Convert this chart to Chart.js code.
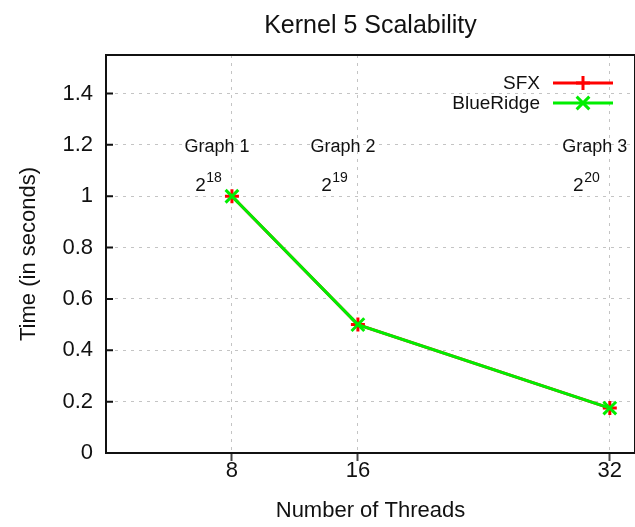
<!DOCTYPE html>
<html>
<head>
<meta charset="utf-8">
<script src="https://cdn.jsdelivr.net/npm/chart.js@4.4.1/dist/chart.umd.min.js"></script>
<style>
  html, body { margin: 0; padding: 0; background: #fff; overflow: hidden; }
  #wrap { width: 635px; height: 527px; }
</style>
</head>
<body>
<div id="wrap"><canvas id="chart" width="635" height="527"></canvas></div>
<script>
// thread counts on the x axis
const threads = [8, 16, 32];
// run times in seconds
const sfxTimes = [1.0, 0.5, 0.175];
const blueRidgeTimes = [1.0, 0.5, 0.175];
// y axis tick values
const yTicks = [0, 0.2, 0.4, 0.6, 0.8, 1, 1.2, 1.4];
// input graph per thread count, size is 2^exponent
const graphNames = ['Graph 1', 'Graph 2', 'Graph 3'];
const graphExponents = ['18', '19', '20'];

const FONT = '"Liberation Sans", Arial, Helvetica, sans-serif';
const INK = '#111';
const GRID = '#c4c4c4';

Chart.defaults.font.family = FONT;
Chart.defaults.color = INK;

const points = vals => threads.map((t, i) => ({ x: t, y: vals[i] }));

// + and x markers, same shapes as the point styles
function drawMarker(ctx, style, x, y, r) {
  ctx.beginPath();
  if (style === 'cross') {
    ctx.moveTo(x - r, y); ctx.lineTo(x + r, y);
    ctx.moveTo(x, y - r); ctx.lineTo(x, y + r);
  } else {
    const d = r * Math.SQRT1_2;
    ctx.moveTo(x - d, y - d); ctx.lineTo(x + d, y + d);
    ctx.moveTo(x - d, y + d); ctx.lineTo(x + d, y - d);
  }
  ctx.stroke();
}

// closes the box on top/right and adds inward ticks on the y axis
const framePlugin = {
  id: 'frame',
  beforeDatasetsDraw(chart) {
    const { ctx, chartArea: a, scales: { y } } = chart;
    ctx.save();
    ctx.strokeStyle = INK;
    ctx.lineWidth = 2;
    ctx.beginPath();
    ctx.moveTo(a.left, a.top);
    ctx.lineTo(a.right, a.top);
    ctx.lineTo(a.right, a.bottom);
    ctx.stroke();
    ctx.beginPath();
    yTicks.forEach(v => {
      const py = y.getPixelForValue(v);
      ctx.moveTo(a.left, py);
      ctx.lineTo(a.left + 7, py);
    });
    ctx.stroke();
    ctx.restore();
  }
};

// "Graph n" and 2^k labels above each thread count
const graphLabelPlugin = {
  id: 'graphLabels',
  afterDatasetsDraw(chart) {
    const { ctx, scales: { x, y } } = chart;
    ctx.save();
    ctx.fillStyle = INK;
    threads.forEach((t, i) => {
      ctx.font = `18px ${FONT}`;
      ctx.textAlign = 'center';
      ctx.textBaseline = 'middle';
      ctx.fillText(graphNames[i], x.getPixelForValue(t - 0.95), y.getPixelForValue(1.19));

      ctx.textAlign = 'left';
      ctx.textBaseline = 'alphabetic';
      ctx.font = `19px ${FONT}`;
      const wBase = ctx.measureText('2').width;
      ctx.font = `14px ${FONT}`;
      const wExp = ctx.measureText(graphExponents[i]).width;
      const cx = x.getPixelForValue(t - 1.5);
      const by = y.getPixelForValue(1.02);
      const x0 = cx - (wBase + wExp) / 2;
      ctx.font = `19px ${FONT}`;
      ctx.fillText('2', x0, by);
      ctx.font = `14px ${FONT}`;
      ctx.fillText(graphExponents[i], x0 + wBase + 0.5, by - 9);
    });
    ctx.restore();
  }
};

// key in the top right corner: text, then line sample with marker
const keyPlugin = {
  id: 'key',
  afterDraw(chart) {
    const { ctx, chartArea: a } = chart;
    ctx.save();
    ctx.font = `19px ${FONT}`;
    ctx.textAlign = 'right';
    ctx.textBaseline = 'middle';
    chart.data.datasets.forEach((ds, i) => {
      const ky = a.top + 28 + i * 20;
      ctx.fillStyle = INK;
      ctx.fillText(ds.label, a.right - 95, ky + 1);
      ctx.strokeStyle = ds.borderColor;
      ctx.lineWidth = ds.borderWidth;
      ctx.beginPath();
      ctx.moveTo(a.right - 82, ky);
      ctx.lineTo(a.right - 22, ky);
      ctx.stroke();
      drawMarker(ctx, ds.pointStyle, a.right - 52, ky, ds.pointRadius);
    });
    ctx.restore();
  }
};

new Chart(document.getElementById('chart'), {
  type: 'line',
  data: {
    datasets: [{
      label: 'SFX',
      data: points(sfxTimes),
      borderColor: '#ff0000',
      borderWidth: 3,
      pointStyle: 'cross',
      pointRadius: 7,
      pointBorderWidth: 3,
      pointBorderColor: '#ff0000',
      order: 1
    }, {
      label: 'BlueRidge',
      data: points(blueRidgeTimes),
      borderColor: '#00ee00',
      borderWidth: 3,
      pointStyle: 'crossRot',
      pointRadius: 9,
      pointBorderWidth: 3,
      pointBorderColor: '#00ee00',
      order: 0
    }]
  },
  options: {
    responsive: false,
    animation: false,
    layout: { padding: 0, autoPadding: false },
    plugins: {
      legend: { display: false },
      tooltip: { enabled: false },
      title: {
        display: true,
        text: 'Kernel 5 Scalability',
        fullSize: false,
        font: { size: 25, weight: 'normal', lineHeight: 1.2 },
        color: INK,
        padding: { top: 11, bottom: 14 }
      }
    },
    scales: {
      x: {
        type: 'linear',
        min: 0,
        max: 33.6,
        afterFit: s => {
          s.height = 74;
          s.paddingLeft = 0;
          s.paddingRight = 0;
        },
        afterBuildTicks: s => { s.ticks = threads.map(v => ({ value: v })); },
        ticks: {
          font: { size: 22 },
          padding: -3,
          maxRotation: 0,
          callback: v => String(v)
        },
        grid: {
          color: GRID,
          lineWidth: 1,
          tickLength: 8,
          tickWidth: 2,
          tickColor: '#444'
        },
        border: { color: INK, width: 2, dash: [3, 5] },
        title: {
          display: true,
          text: 'Number of Threads',
          font: { size: 22 },
          padding: { top: 0, bottom: 3 }
        }
      },
      y: {
        min: 0,
        max: 1.55,
        afterFit: s => { s.width = 106; },
        afterBuildTicks: s => { s.ticks = yTicks.map(v => ({ value: v })); },
        ticks: {
          font: { size: 22 },
          padding: 13,
          callback: v => String(v)
        },
        grid: {
          color: GRID,
          lineWidth: 1,
          drawTicks: false
        },
        border: { color: INK, width: 2, dash: [3, 5] },
        title: {
          display: true,
          text: 'Time (in seconds)',
          font: { size: 22 },
          padding: { top: 16, bottom: 0 }
        }
      }
    }
  },
  plugins: [framePlugin, graphLabelPlugin, keyPlugin]
});
</script>
</body>
</html>
